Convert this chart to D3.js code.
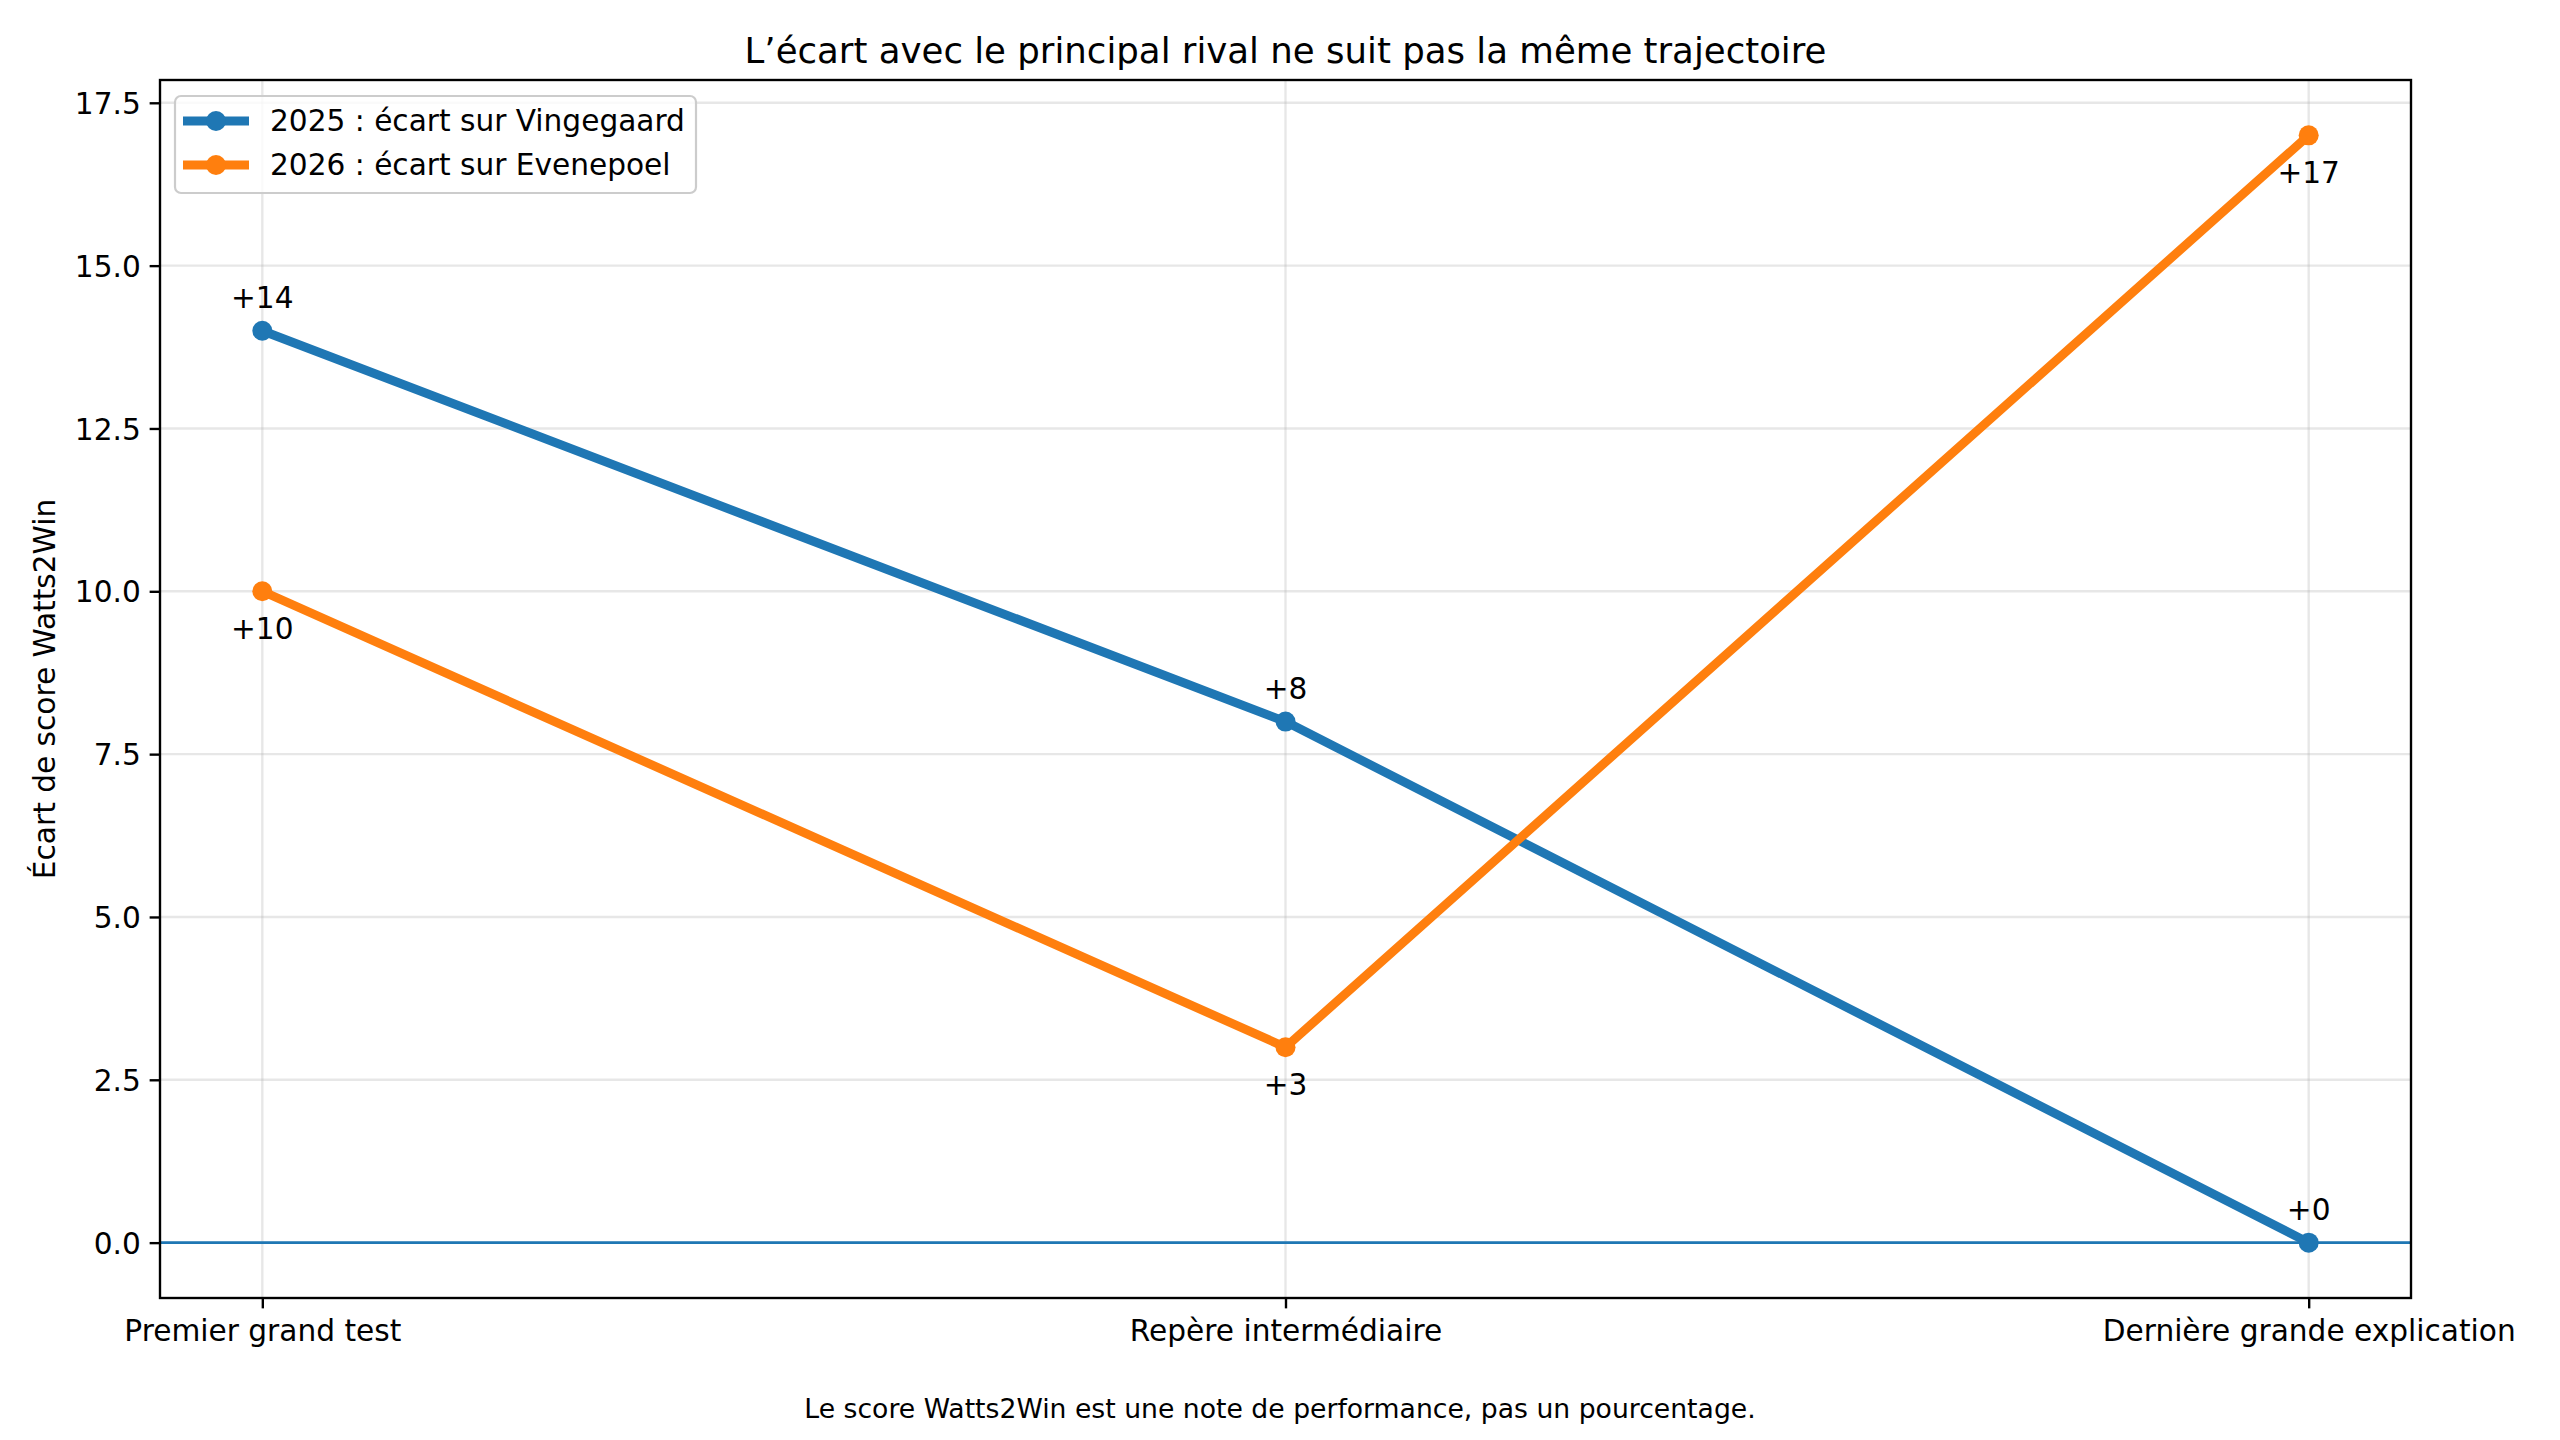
<!DOCTYPE html>
<html>
<head>
<meta charset="utf-8">
<script src="https://cdn.jsdelivr.net/npm/d3@7"></script>
<style>
  body { margin: 0; background: #fff; }
  text { font-family: "DejaVu Sans", sans-serif; fill: #000; }
</style>
</head>
<body>
<script>
// chart data
var categories = ["Premier grand test", "Repère intermédiaire", "Dernière grande explication"];
var gapVingegaard = [14, 8, 0];
var gapEvenepoel = [10, 3, 17];
var seriesNames = ["2025 : écart sur Vingegaard", "2026 : écart sur Evenepoel"];
var yTicks = [0, 2.5, 5, 7.5, 10, 12.5, 15, 17.5];

var w = 2560, h = 1440;
var margin = {top: 80, right: 149, bottom: 142, left: 160};
var width = w - margin.left - margin.right,
    height = h - margin.top - margin.bottom;

var pt = (2560 / 12) / 72; // 12in wide figure -> points to pixels
var fs = 10 * pt;

var series = [
  {name: seriesNames[0], values: gapVingegaard, color: "#1f77b4", below: false},
  {name: seriesNames[1], values: gapEvenepoel, color: "#ff7f0e", below: true}
];

var x = d3.scalePoint()
    .domain(categories)
    .range([0, width])
    .padding(0.1);

var y = d3.scaleLinear()
    .domain([-0.85, 17.85])
    .range([height, 0]);

var svg = d3.select("body").append("svg")
    .attr("width", w)
    .attr("height", h);

var chart = svg.append("g")
    .attr("transform", "translate(" + margin.left + "," + margin.top + ")");

// grid
chart.append("g").selectAll("line.gy")
    .data(yTicks).enter().append("line")
    .attr("x1", 0).attr("x2", width)
    .attr("y1", function(d) { return y(d); })
    .attr("y2", function(d) { return y(d); })
    .attr("stroke", "#b0b0b0").attr("stroke-opacity", 0.3)
    .attr("stroke-width", 0.8 * pt);

chart.append("g").selectAll("line.gx")
    .data(categories).enter().append("line")
    .attr("x1", function(d) { return x(d); })
    .attr("x2", function(d) { return x(d); })
    .attr("y1", 0).attr("y2", height)
    .attr("stroke", "#b0b0b0").attr("stroke-opacity", 0.3)
    .attr("stroke-width", 0.8 * pt);

// zero line
chart.append("line")
    .attr("x1", 0).attr("x2", width)
    .attr("y1", y(0)).attr("y2", y(0))
    .attr("stroke", "#1f77b4")
    .attr("stroke-width", 1 * pt);

// lines + markers
var line = d3.line()
    .x(function(d, i) { return x(categories[i]); })
    .y(function(d) { return y(d); });

series.forEach(function(s) {
  chart.append("path")
      .datum(s.values)
      .attr("fill", "none")
      .attr("stroke", s.color)
      .attr("stroke-width", 3 * pt)
      .attr("stroke-linejoin", "round")
      .attr("stroke-linecap", "round")
      .attr("d", line);

  chart.append("g").selectAll("circle")
      .data(s.values).enter().append("circle")
      .attr("cx", function(d, i) { return x(categories[i]); })
      .attr("cy", function(d) { return y(d); })
      .attr("r", 10)
      .attr("fill", s.color);

  // value labels: above for 2025, below for 2026
  chart.append("g").selectAll("text")
      .data(s.values).enter().append("text")
      .attr("x", function(d, i) { return x(categories[i]); })
      .attr("y", function(d) { return y(d) + (s.below ? 48 : -23); })
      .attr("text-anchor", "middle")
      .style("font-size", fs + "px")
      .text(function(d) { return "+" + d; });
});

// axes
var xAxis = chart.append("g")
    .attr("transform", "translate(0," + height + ")")
    .call(d3.axisBottom(x).tickSize(3.5 * pt).tickPadding(3.5 * pt));

var yAxis = chart.append("g")
    .call(d3.axisLeft(y).tickValues(yTicks).tickFormat(d3.format(".1f"))
      .tickSize(3.5 * pt).tickPadding(3 * pt));

[xAxis, yAxis].forEach(function(a) {
  a.select(".domain").remove();
  a.selectAll(".tick line").attr("stroke", "#000").attr("stroke-width", 0.8 * pt);
  a.selectAll(".tick text")
      .attr("fill", "#000")
      .style("font-size", fs + "px")
      .style("font-family", "DejaVu Sans, sans-serif");
});
xAxis.selectAll(".tick text").attr("dy", "0.76em");
yAxis.selectAll(".tick text").attr("dy", "0.36em");

// frame
chart.append("rect")
    .attr("width", width).attr("height", height)
    .attr("fill", "none")
    .attr("stroke", "#000")
    .attr("stroke-width", 0.8 * pt);

// legend - top left
var legend = chart.append("g")
    .attr("transform", "translate(15,16)");

legend.append("rect")
    .attr("width", 521).attr("height", 97)
    .attr("rx", 6).attr("ry", 6)
    .attr("fill", "#fff").attr("fill-opacity", 0.8)
    .attr("stroke", "#cccccc").attr("stroke-width", 2.2);

var items = legend.selectAll("g.item")
    .data(series).enter().append("g")
    .attr("transform", function(d, i) { return "translate(0," + (25 + i * 44) + ")"; });

items.append("line")
    .attr("x1", 8).attr("x2", 74)
    .attr("stroke", function(d) { return d.color; })
    .attr("stroke-width", 3 * pt);

items.append("circle")
    .attr("cx", 41).attr("r", 10)
    .attr("fill", function(d) { return d.color; });

items.append("text")
    .attr("x", 95).attr("y", 10)
    .style("font-size", fs + "px")
    .text(function(d) { return d.name; });

// title
svg.append("text")
    .attr("x", margin.left + width / 2)
    .attr("y", 63)
    .attr("text-anchor", "middle")
    .style("font-size", (12 * pt) + "px")
    .text("L’écart avec le principal rival ne suit pas la même trajectoire");

// y-axis title
svg.append("text")
    .attr("transform", "translate(55," + (margin.top + height / 2) + ") rotate(-90)")
    .attr("text-anchor", "middle")
    .style("font-size", fs + "px")
    .text("Écart de score Watts2Win");

// footnote
svg.append("text")
    .attr("x", w / 2)
    .attr("y", 1418)
    .attr("text-anchor", "middle")
    .style("font-size", (9 * pt) + "px")
    .text("Le score Watts2Win est une note de performance, pas un pourcentage.");
</script>
</body>
</html>
